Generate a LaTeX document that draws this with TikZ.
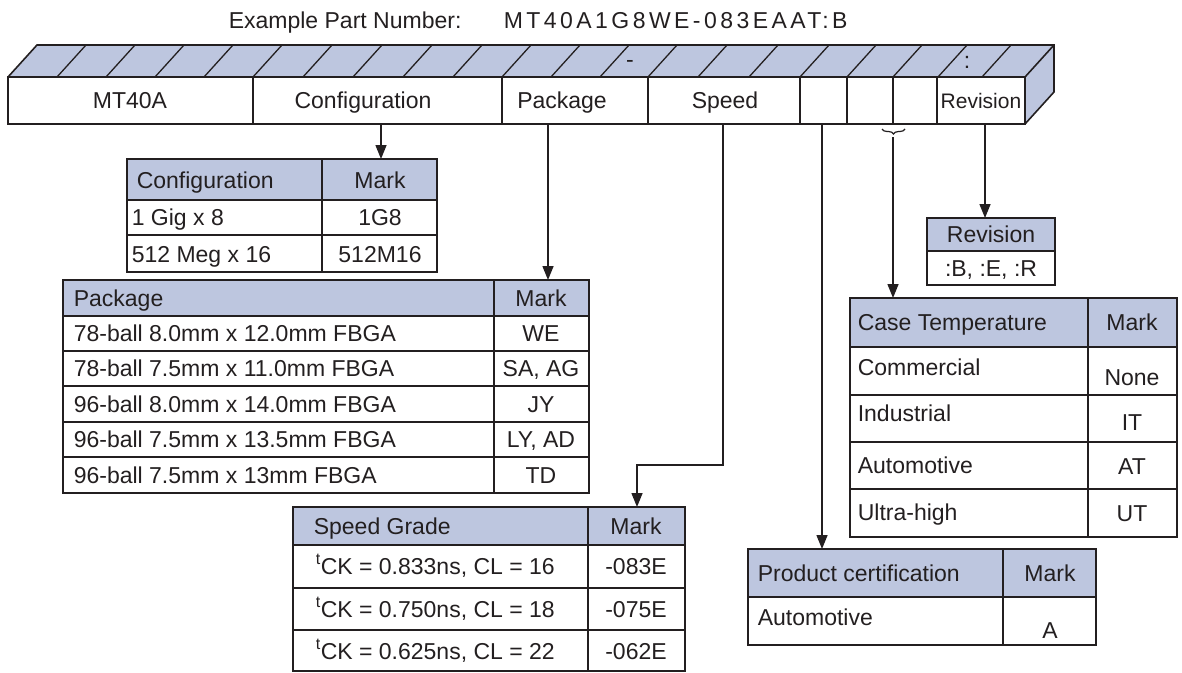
\documentclass[tikz,border=0pt]{standalone}
\usepackage{fontspec}
\setmainfont{Liberation Sans}
\usetikzlibrary{arrows.meta, decorations.pathreplacing}
\definecolor{headcolor}{RGB}{189,198,223}
\definecolor{inkcolor}{RGB}{35,31,32}

\begin{document}
\begin{tikzpicture}[x=1pt, y=-1pt, inkcolor, line width=1.6pt,
    lbl/.style={font=\fontsize{23}{27}\selectfont, inner sep=0pt, anchor=base},
    lbll/.style={lbl, anchor=base west},
    arr/.style={-{Triangle[length=14pt, width=11pt]}, line width=1.5pt}]
    \useasboundingbox (0,0) rectangle (1182,672);

    % Title
    \node[lbll] (title) at (228,28) {Example Part Number:};
    \node[lbll, font=\fontsize{23}{27}\selectfont\addfontfeature{LetterSpace=15}] (partno) at (503,28) {MT40A1G8WE-083EAAT:B};

    % Part number bar (3D box)
    \fill[headcolor] (8,77) -- (37,45) -- (1054,45) -- (1054,92) -- (1025,124) -- (1025,77) -- cycle;
    \draw (8,77) -- (37,45) -- (1054,45) -- (1054,92) -- (1025,124);
    \draw (1025,77) -- (1054,45);
    \fill[white] (8,77) rectangle (1025,124);
    \draw (8,77) rectangle (1025,124);
    \foreach \x in {57,106,155,204,253,303,353,403,453,502,551,600,648,698,749,800,847,893,938,982}
        \draw[line width=1.3pt] (\x,77) -- ++(29,-32);
    \foreach \x in {253,502,648,800,847,893,937}
        \draw (\x,77) -- (\x,124);
    \node[lbl] (dash) at (630,67) {-};
    \node[lbl] (colon) at (967,68) {:};
    \node[lbl] (base) at (130,108) {MT40A};
    \node[lbl] (cfg) at (363,108) {Configuration};
    \node[lbl] (pkg) at (562,108) {Package};
    \node[lbl] (spd) at (725,108) {Speed};
    \node[lbl, font=\fontsize{21}{25}\selectfont] (rev) at (981,108) {Revision};

    % Configuration table
    \fill[headcolor] (127,159) rectangle (437,200);
    \draw (127,159) rectangle (437,272);
    \foreach \y in {200,235} \draw (127,\y) -- (437,\y);
    \draw (322,159) -- (322,272);
    \node[lbll] (cfghead) at (136,188) {Configuration};
    \node[lbl] (cfgmark) at (380,188) {Mark};
    \node[lbll] at (131,225) {1 Gig x 8};
    \node[lbl] at (380,225) {1G8};
    \node[lbll] at (131,262) {512 Meg x 16};
    \node[lbl] at (380,262) {512M16};

    % Package table
    \fill[headcolor] (63,280) rectangle (589,316);
    \draw (63,280) rectangle (589,493);
    \foreach \y in {316,351,386,422,457} \draw (63,\y) -- (589,\y);
    \draw (494,280) -- (494,493);
    \node[lbll] (pkghead) at (73,306) {Package};
    \node[lbl] (pkgmark) at (541,306) {Mark};
    \foreach \t/\m [count=\i] in {78-ball 8.0mm x 12.0mm FBGA/WE, 78-ball 7.5mm x 11.0mm FBGA/{SA, AG},
        96-ball 8.0mm x 14.0mm FBGA/JY, 96-ball 7.5mm x 13.5mm FBGA/{LY, AD}, 96-ball 7.5mm x 13mm FBGA/TD} {
        \node[lbll] at (73,306+35.4*\i) {\t};
        \node[lbl] at (541,306+35.4*\i) {\m};
    }

    % Speed grade table
    \fill[headcolor] (293,507) rectangle (685,545);
    \draw (293,507) rectangle (685,671);
    \foreach \y in {545,588,630} \draw (293,\y) -- (685,\y);
    \draw (588,507) -- (588,671);
    \node[lbll] (spdhead) at (313,534) {Speed Grade};
    \node[lbl] (spdmark) at (636,534) {Mark};
    \node[lbll] at (315,574) {\textsuperscript{t}CK = 0.833ns, CL = 16};
    \node[lbl] at (636,574) {-083E};
    \node[lbll] at (315,617) {\textsuperscript{t}CK = 0.750ns, CL = 18};
    \node[lbl] at (636,617) {-075E};
    \node[lbll] at (315,659) {\textsuperscript{t}CK = 0.625ns, CL = 22};
    \node[lbl] at (636,659) {-062E};

    % Revision table
    \fill[headcolor] (927,218) rectangle (1055,251);
    \draw (927,218) rectangle (1055,285);
    \draw (927,251) -- (1055,251);
    \node[lbl] (revhead) at (991,242) {Revision};
    \node[lbl] (revval) at (991,276) {:B, :E, :R};

    % Case temperature table
    \fill[headcolor] (850,298) rectangle (1177,347);
    \draw (850,298) rectangle (1177,537);
    \foreach \y in {347,395,442,489} \draw (850,\y) -- (1177,\y);
    \draw (1088,298) -- (1088,537);
    \node[lbll] (temphead) at (857,330) {Case Temperature};
    \node[lbl] (tempmark) at (1132,330) {Mark};
    \node[lbll] at (857,375) {Commercial};
    \node[lbl] at (1132,385) {None};
    \node[lbll] at (857,421) {Industrial};
    \node[lbl] at (1132,430) {IT};
    \node[lbll] at (857,473) {Automotive};
    \node[lbl] at (1132,474) {AT};
    \node[lbll] at (857,520) {Ultra-high};
    \node[lbl] at (1132,521) {UT};

    % Product certification table
    \fill[headcolor] (748,549) rectangle (1096,597);
    \draw (748,549) rectangle (1096,645);
    \draw (748,597) -- (1096,597);
    \draw (1003,549) -- (1003,645);
    \node[lbll] (certhead) at (757,581) {Product certification};
    \node[lbl] (certmark) at (1050,581) {Mark};
    \node[lbll] at (757,625) {Automotive};
    \node[lbl] at (1050,638) {A};

    % Connectors
    \coordinate (cfgout) at (381,124);
    \coordinate (cfgin) at (381,159);
    \coordinate (pkgout) at (548,124);
    \coordinate (pkgin) at (548,280);
    \coordinate (spdout) at (723,124);
    \coordinate (spdjog) at (723,465);
    \coordinate (spdin) at (637,507);
    \coordinate (certout) at (822,124);
    \coordinate (certin) at (822,549);
    \coordinate (tempout) at (893,137);
    \coordinate (tempin) at (893,298);
    \coordinate (revout) at (985,124);
    \coordinate (revin) at (985,218);

    \draw[arr] (cfgout) -- (cfgin);
    \draw[arr] (pkgout) -- (pkgin);
    \draw[arr] (spdout) -- (spdjog) -| (spdin);
    \draw[arr] (certout) -- (certin);
    \draw[arr] (tempout) -- (tempin);
    \draw[arr] (revout) -- (revin);
    \draw[decorate, decoration={brace, mirror, amplitude=5pt}, line width=1.2pt] (882,129) -- (905,129);
\end{tikzpicture}
\end{document}
